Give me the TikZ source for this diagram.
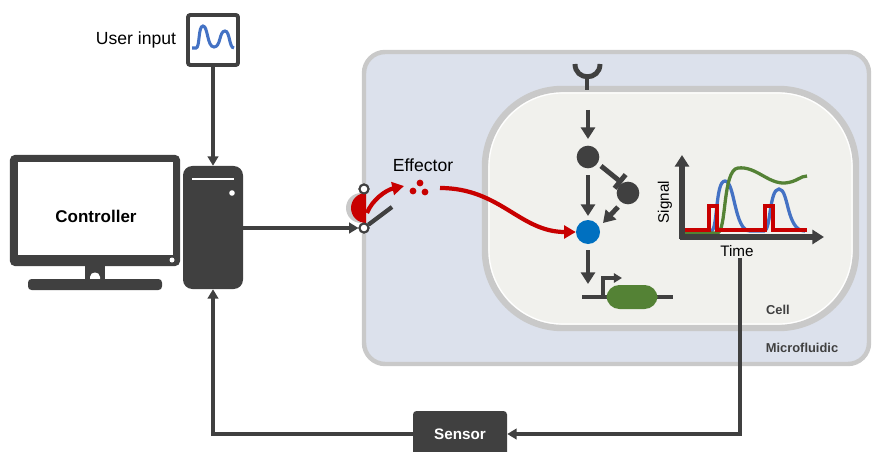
\documentclass[tikz,border=0pt]{standalone}
\usepackage{fontspec}
\setmainfont{Liberation Sans}
\usetikzlibrary{arrows.meta, positioning}

\definecolor{dark}{HTML}{404040}
\definecolor{fxred}{HTML}{C80000}
\definecolor{tfblue}{HTML}{0070C0}
\definecolor{curveblue}{HTML}{4472C4}
\definecolor{genegreen}{HTML}{548235}
\definecolor{chipfill}{HTML}{DCE1EC}
\definecolor{cellfill}{HTML}{F1F1ED}
\definecolor{rim}{HTML}{C9C9C9}

\begin{document}
\begin{tikzpicture}[x=0.03cm, y=-0.03cm]
	\tikzstyle{wire} = [draw=dark, line width=2.8pt]
	\tikzstyle{feed} = [wire, -{Triangle[length=8pt, width=9pt]}]
	\tikzstyle{sig} = [draw=dark, line width=4.2pt, -{Triangle[length=10pt, width=12pt]}]
	\tikzstyle{mol} = [circle, fill=dark, minimum size=0.68cm, inner sep=0pt]
	\tikzstyle{post} = [circle, draw=dark, fill=white, line width=1.7pt,
	minimum size=0.27cm, inner sep=0pt]
	\tikzstyle{effect} = [draw=fxred, line width=3.6pt,
	-{Triangle[length=10pt, width=11pt]}]
	\tikzstyle{caption} = [font=\fontsize{15}{18}\selectfont]
	\tikzstyle{tagtext} = [font=\bfseries\fontsize{11}{13}\selectfont, text=dark]

	\useasboundingbox (0,0) rectangle (873,452);

	% microfluidic chamber and cell
	\draw[rim, fill=chipfill, line width=3.8pt, rounded corners=18]
		(364,52) rectangle (869,364);
	\draw[rim, fill=cellfill, line width=5.5pt, rounded corners=66]
		(485,89) rectangle (856,328);
	\draw[white, line width=1pt, rounded corners=63]
		(489,93) rectangle (852,324);
	\node[tagtext] at (778,310) {Cell};
	\node[tagtext] at (802,348) {Microfluidic};

	% user input
	\node[draw=dark, fill=white, line width=3.4pt, rounded corners=2,
		minimum size=1.5cm] (user) at (213,40) {};
	\draw[curveblue, line width=2.6pt]
		(192,48) -- (196,48) .. controls (200,48) and (198,26) .. (203,26)
		.. controls (208,26) and (207,47) .. (214,47)
		.. controls (221,47) and (219,31) .. (225,31)
		.. controls (230,31) and (229,48) .. (234,48);
	\node[caption, left=5pt of user.west] {User input};

	% controller: monitor and tower
	\node[fill=dark, rounded corners=4, minimum width=5.1cm, minimum height=3.33cm,
		inner sep=0pt] (mon) at (95,210.5) {};
	\fill[white] (18,162) rectangle (173,255);
	\fill[white] (172,260) circle (2.5);
	\fill[dark] (85,264) rectangle (105,282);
	\fill[white] (90,282) -- (90,277) .. controls (90,271) and (100,271) .. (100,277) -- (100,282) -- cycle;
	\fill[dark, rounded corners=3] (28,279) rectangle (162,290);
	\node[font=\bfseries\fontsize{14.5}{17}\selectfont] at (96,216) {Controller};

	\node[fill=dark, rounded corners=8, minimum width=1.8cm, minimum height=3.69cm,
		inner sep=0pt] (tower) at (213,227.5) {};
	\draw[white, line width=2.2pt] (192,179) -- (234,179);
	\fill[white] (232,193) circle (2.8);

	% switch and effector release
	\node[post] (sw1) at (364,189) {};
	\node[post] (sw2) at (364,228) {};
	\fill[rim] (361,193) arc[start angle=270, end angle=90, radius=15] -- cycle;
	\fill[fxred] (366,193) arc[start angle=270, end angle=90, radius=15] -- cycle;
	\node[post] at (sw1) {};
	\draw[dark, line width=3.6pt] (sw2) -- ++(28,-21);
	\node[post] at (sw2) {};
	\draw[effect] (367,213) .. controls (372,200) and (386,190) .. (404,186);

	\coordinate (fx) at (420,188);
	\fill[fxred] (fx) ++(-7,3) circle (3.4) (fx) ++(0,-5) circle (3.4) (fx) ++(5,4) circle (3.4);
	\node[caption] at (423,165) {Effector};

	% signalling pathway
	\coordinate (rec) at (587,90);
	\draw[dark, line width=4.2pt] (575,64) .. controls (575,81) and (600,81) .. (600,64);
	\draw[dark, line width=4.2pt] (587,76) -- (rec);

	\node[mol] (n1) at (588,157) {};
	\node[mol] (n2) at (628,193) {};
	\node[mol, fill=tfblue, minimum size=0.72cm] (tf) at (588,232) {};

	\draw[sig] (588,110) -- (588,139);
	\draw[sig] (n1) ++(0,18) -- (588,216);
	\draw[draw=dark, line width=4.2pt, -{Bar[width=15pt]}]
		(n1) ++(13,9) -- (622,183);
	\draw[sig] (n2) ++(-10,14) -- (603,223);
	\draw[sig] (tf) ++(0,18) -- (588,284);

	% gene
	\draw[dark, line width=3.6pt] (582,297) -- (673,297);
	\draw[dark, line width=2.8pt, -{Triangle[length=7pt, width=8pt]}]
		(603,297) -- (603,278) -- (622,278);
	\node[fill=genegreen, rounded corners=11, minimum width=1.53cm,
		minimum height=0.72cm, inner sep=0pt] (gene) at (632,297) {};

	\draw[effect] (440,188) .. controls (500,188) and (520,232) .. (tf.west);

	% time course
	\coordinate (o) at (682,237);
	\draw[curveblue, line width=2.8pt]
		(700,231) -- (711,231) .. controls (718,231) and (715,181) .. (725,181)
		.. controls (735,181) and (734,231) .. (750,231) -- (764,231)
		.. controls (771,231) and (769,189) .. (779,189)
		.. controls (789,189) and (786,231) .. (805,231);
	\draw[genegreen, line width=2.8pt]
		(684,233) -- (717,233) .. controls (727,233) and (722,170) .. (738,168)
		.. controls (756,166) and (768,184) .. (785,183)
		.. controls (797,182) and (800,176) .. (807,176);
	\draw[fxred, line width=3.4pt]
		(684,230) -- (709,230) -- (709,206) -- (717,206) -- (717,230)
		-- (765,230) -- (765,206) -- (773,206) -- (773,230) -- (807,230);
	\draw[dark, line width=4.4pt, -{Triangle[length=10pt, width=12pt]}]
		(o) ++(0,2) -- (682,155);
	\draw[dark, line width=4.4pt, -{Triangle[length=10pt, width=12pt]}]
		(o) ++(-2,0) -- (824,237);
	\node[rotate=90, font=\fontsize{13}{15}\selectfont] at (665,202) {Signal};
	\node[font=\fontsize{13}{15}\selectfont] (time) at (737,251) {Time};

	% sensor feedback loop
	\node[fill=dark, rounded corners=3, minimum width=2.82cm, minimum height=1.38cm,
		text=white, font=\bfseries\fontsize{13}{15}\selectfont] (sensor) at (460,434) {Sensor};
	\coordinate (probe) at (740,258);
	\draw[feed] (probe) |- (sensor.east);
	\draw[feed] (sensor.west) -| (tower.south);
	\draw[feed] (user.south) -- (tower.north);
	\draw[feed] (tower.east |- sw2) -- (sw2.west);
\end{tikzpicture}
\end{document}
